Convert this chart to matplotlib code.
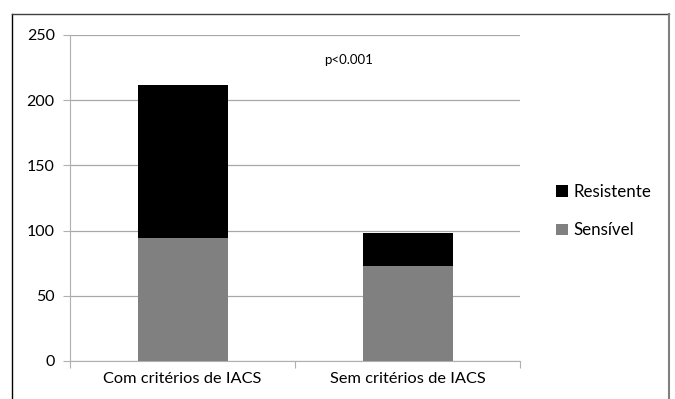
import matplotlib
matplotlib.use("Agg")
import matplotlib.pyplot as plt
from matplotlib.lines import Line2D

categories = ["Com critérios de IACS", "Sem critérios de IACS"]
sensivel = [94, 73]
resistente = [118, 25]
y_ticks = [0, 50, 100, 150, 200, 250]
annotation = "p<0.001"

plt.rcParams['font.family'] = ['Lato', 'DejaVu Sans']

fig = plt.figure(figsize=(6.75, 3.99), dpi=100)
ax = fig.add_axes([70/675, 1-361/399, 450/675, 326/399])

x = list(range(len(categories)))
b1 = ax.bar(x, sensivel, width=0.4, color="#808080", label="Sensível", zorder=3)
b2 = ax.bar(x, resistente, width=0.4, bottom=sensivel, color="#000000", label="Resistente", zorder=3)

ax.set_xlim(-0.5, 1.5)
ax.set_ylim(0, 250)
ax.set_yticks(y_ticks)
ax.set_yticklabels([str(v) for v in y_ticks], fontsize=11.5)
ax.set_xticks([-0.5, 0.5, 1.5])
ax.set_xticklabels([])
ax.set_xticks(x, minor=True)
ax.set_xticklabels(categories, minor=True, fontsize=11.8)
ax.tick_params(axis='x', which='minor', length=0, pad=8)
ax.tick_params(axis='x', which='major', length=5, color="#b0b0b0", direction='out')
ax.tick_params(axis='y', length=5, color="#b0b0b0", pad=6)
ax.grid(axis='y', color="#a8a8a8", linewidth=0.9, zorder=0)
for s in ['top', 'right']:
    ax.spines[s].set_visible(False)
ax.spines['left'].set_color("#b0b0b0")
ax.spines['bottom'].set_color("#b0b0b0")

ax.text(0.738, 231, annotation, fontsize=9.5, ha='center', va='center')

leg = fig.legend(handles=[b2, b1], labels=["Resistente", "Sensível"],
                 loc='center left', bbox_to_anchor=(541/675, 1-211/399),
                 frameon=False, fontsize=12.2, handlelength=0.7, handleheight=0.7,
                 handletextpad=0.3, labelspacing=1.35)

# outer border
fig.add_artist(Line2D([12/675, 12/675], [0, 1-14/399], color="black", linewidth=1.0))
fig.add_artist(Line2D([12/675, 669/675], [1-14/399, 1-14/399], color="#404040", linewidth=1.0))
fig.add_artist(Line2D([669/675, 669/675], [0, 1-14/399], color="#808080", linewidth=1.5))

fig.savefig("out.png", dpi=100)
